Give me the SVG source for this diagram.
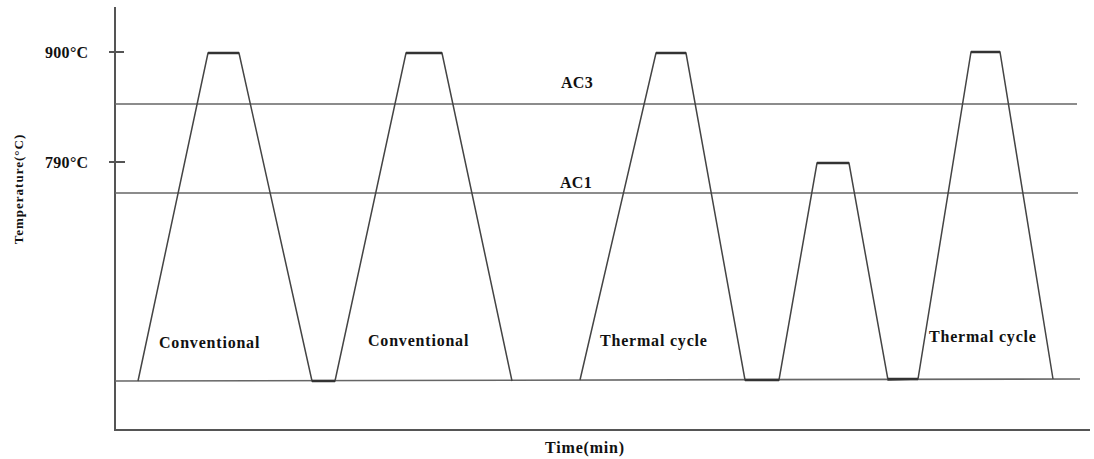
<svg xmlns="http://www.w3.org/2000/svg" width="1094" height="459" viewBox="0 0 1094 459">
<style>
.ax{stroke:#555;stroke-width:2;fill:none}
.ln{stroke:#666;stroke-width:1.6;fill:none}
.cy{stroke:#444;stroke-width:1.5;fill:none}
.top{stroke:#333;stroke-width:2.5}
.lbl{font-family:"Liberation Serif",serif;font-weight:bold;fill:#111}
.big{font-size:16px;letter-spacing:0.8px}
.small{font-size:16px;letter-spacing:0.3px}
</style>
<rect width="1094" height="459" fill="#fff"/>
<g id="axes">
<line class="ax" x1="115" y1="7" x2="115" y2="431"/>
<line class="ax" x1="114" y1="430" x2="1090" y2="430"/>
<line class="ax" x1="109" y1="52" x2="124" y2="52"/>
<line class="ax" x1="109" y1="162" x2="125" y2="162"/>
<text class="lbl small" x="45" y="58">900°C</text>
<text class="lbl small" x="45" y="168">790°C</text>
<text class="lbl" font-size="13" letter-spacing="1" transform="translate(23,189) rotate(-90)" text-anchor="middle">Temperature(°C)</text>
<text class="lbl" font-size="16" letter-spacing="0.8" x="585" y="453" text-anchor="middle">Time(min)</text>
</g>
<g id="ac3">
<line class="ln" x1="115" y1="104" x2="1077" y2="104"/>
<text class="lbl small" x="561" y="88">AC3</text>
</g>
<g id="ac1">
<line class="ln" x1="115" y1="193" x2="1078" y2="193"/>
<text class="lbl small" x="560" y="188">AC1</text>
</g>
<g id="baseline">
<line class="ln" x1="115" y1="381" x2="1080" y2="379"/>
</g>
<g id="connectors">
<polyline class="cy" points="138,381 208,53 239,53 312,381 335,381 406,53 442,53 512,381"/>
<polyline class="cy" points="580,380 656,53 686,53 745,380 779,380 817,163 849,163 888,380 918,379 971,52 1000,52 1053,379"/>
<line class="top" x1="208" y1="53" x2="239" y2="53"/>
<line class="top" x1="406" y1="53" x2="442" y2="53"/>
<line class="top" x1="656" y1="53" x2="686" y2="53"/>
<line class="top" x1="817" y1="163" x2="849" y2="163"/>
<line class="top" x1="971" y1="52" x2="1000" y2="52"/>
<line class="top" x1="312" y1="381" x2="335" y2="381"/>
<line class="top" x1="745" y1="380" x2="779" y2="380"/>
<line class="top" x1="888" y1="379" x2="918" y2="379"/>
</g>
<g id="cycle1"><text class="lbl big" x="159" y="348">Conventional</text></g>
<g id="cycle2"><text class="lbl big" x="368" y="346">Conventional</text></g>
<g id="cycle3"><text class="lbl big" x="600" y="346">Thermal cycle</text></g>
<g id="cycle4"><text class="lbl big" x="929" y="342">Thermal cycle</text></g>
</svg>
